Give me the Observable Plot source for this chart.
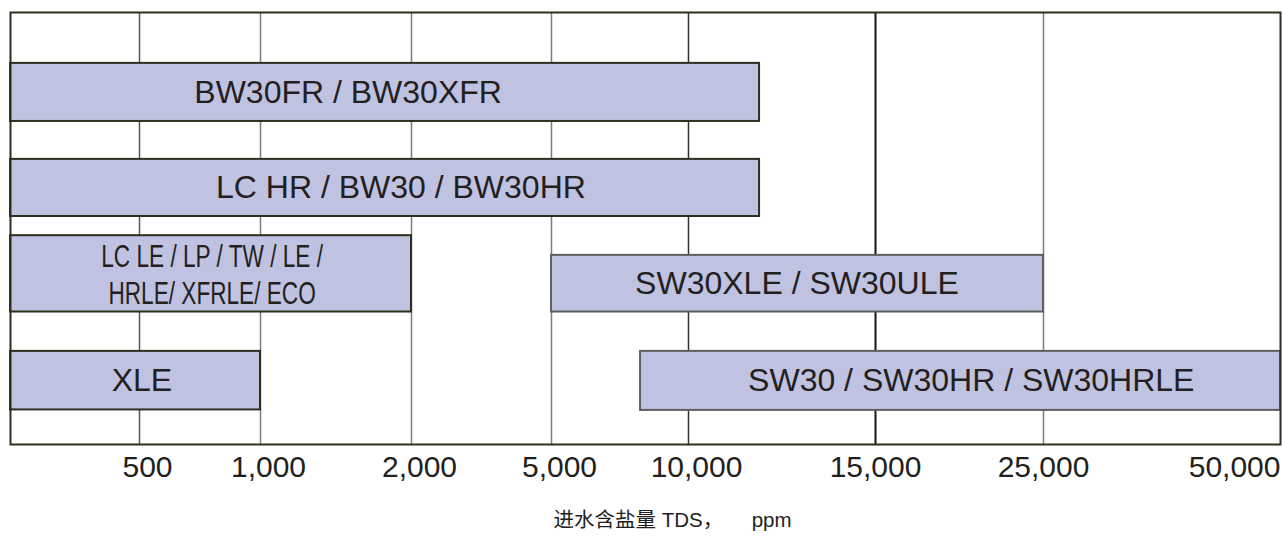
<!DOCTYPE html>
<html><head><meta charset="utf-8">
<script src="https://cdn.jsdelivr.net/npm/d3@7"></script>
<script src="https://cdn.jsdelivr.net/npm/@observablehq/plot@0.6"></script>
<style>body{margin:0;background:#fff}</style>
</head><body><div id="chart"></div>
<script>
// ---- data ----
const membranes = [
  "BW30FR / BW30XFR",
  "LC HR / BW30 / BW30HR",
  "LC LE / LP / TW / LE /\nHRLE/ XFRLE/ ECO",
  "SW30XLE / SW30ULE",
  "XLE",
  "SW30 / SW30HR / SW30HRLE"
];
const family = ["BW", "BW", "BW", "SW", "BW", "SW"];
const tdsFrom = [0, 0, 0, 5000, 0, 8250];
const tdsTo = [11900, 11900, 2000, 25000, 1000, 50000];
const laneTop = [1.06, 3.06, 4.65, 5.06, 7.06, 7.06];
const laneBottom = [2.27, 4.25, 6.24, 6.24, 8.28, 8.29];
const labelAt = [1580, 1930, 800, 12900, 510, 20700];
const tickValues = [500, 1000, 2000, 5000, 10000, 15000, 25000, 50000];
const axisTitle = "进水含盐量\u00a0TDS，\u00a0\u00a0\u00a0\u00a0\u00a0ppm";

const rows = membranes.map((name, i) => ({
  name, family: family[i], from: tdsFrom[i], to: tdsTo[i],
  top: laneTop[i], bottom: laneBottom[i], labelAt: labelAt[i]
}));
const ink = "#231f20";
const latin = "'Liberation Sans', Arial, 'Noto Sans CJK SC', sans-serif";
const fmt = d3.format(",");

const chart = Plot.plot({
  width: 1282,
  height: 540,
  marginLeft: 10,
  marginRight: 2,
  marginTop: 12,
  marginBottom: 96,
  style: {fontFamily: latin, background: "#fff"},
  x: {type: "linear", domain: [0, ...tickValues], range: [10, 139, 260, 411, 551, 688, 875, 1043, 1280], label: null},
  y: {domain: [0, 9], reverse: true, axis: null},
  color: {domain: ["BW", "SW"], range: ["#2d2f1f", "#5e5f5f"]},
  marks: [
    Plot.ruleX(tickValues.slice(0, -1), {
      stroke: d => d === 15000 ? "#161616" : d === 10000 ? "#333333" : d === 500 ? "#555555" : "#7c7c7c",
      strokeWidth: d => d === 15000 ? 2 : 1.5
    }),
    Plot.rect(rows, {x1: "from", x2: "to", y1: "top", y2: "bottom", fill: "#c0c2e1", stroke: "family", strokeWidth: 2}),
    Plot.text(rows.filter(d => !d.name.includes("\n")), {
      x: "labelAt", y: d => (d.top + d.bottom) / 2, text: "name",
      fontSize: 32, fill: ink, fontFamily: latin
    }),
    Plot.text(rows.filter(d => d.name.includes("\n")), {
      x: "labelAt", y: d => (d.top + d.bottom) / 2, text: "name",
      fontSize: 31, lineHeight: 1.2, fill: ink, fontFamily: latin
    }),
    Plot.frame({stroke: "#2d2f1f", strokeWidth: 2}),
    Plot.axisX(tickValues.slice(0, 5), {tickSize: 0, tickPadding: 11, dx: 8, fontSize: 30, fill: ink, tickFormat: fmt, label: null}),
    Plot.axisX(tickValues.slice(5, 7), {tickSize: 0, tickPadding: 11, fontSize: 30, fill: ink, tickFormat: fmt, label: null}),
    Plot.axisX(tickValues.slice(7), {tickSize: 0, tickPadding: 11, fontSize: 30, fill: ink, textAnchor: "end", tickFormat: fmt, label: null}),
    Plot.text([axisTitle], {frameAnchor: "bottom", dy: 82, dx: 27, fontSize: 20.5, fill: ink, fontFamily: latin})
  ]
});
document.getElementById("chart").appendChild(chart);
// narrow (condensed) face for the long two-line label, as in the reference
Array.from(chart.querySelectorAll("text"))
  .filter(t => t.textContent.includes("XFRLE"))
  .forEach(t => {
    const tr = t.getAttribute("transform");
    if (tr) {
      t.setAttribute("transform", tr + " scale(0.73,1)");
    } else {
      const x = +t.getAttribute("x") || 0, y = +t.getAttribute("y") || 0;
      t.setAttribute("transform", `translate(${x},${y}) scale(0.73,1) translate(${-x},${-y})`);
    }
  });
</script>
</body></html>
